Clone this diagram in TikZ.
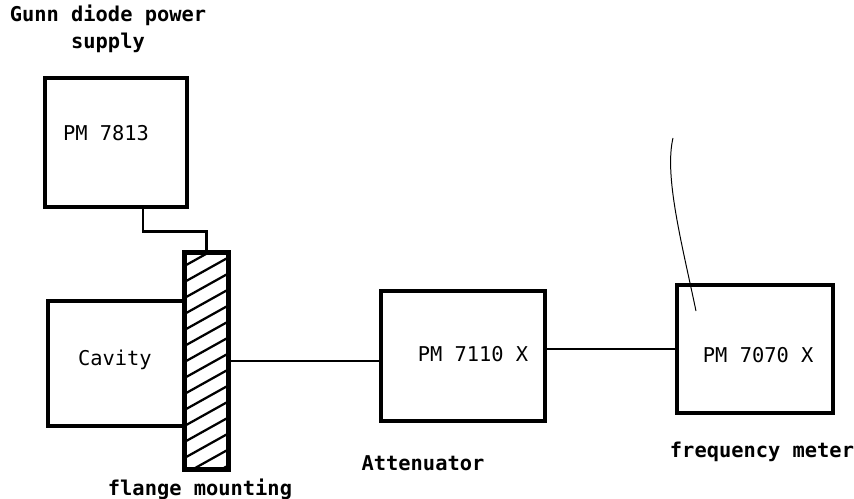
\documentclass[tikz,border=0pt]{standalone}
\usepackage{fontspec}
\usetikzlibrary{positioning,calc}
\newfontfamily\typefont{DejaVu Sans Mono}
\tikzset{
    every node/.append style={align=center},
    unit/.style={rectangle,draw=black,line width=2.2pt,inner sep=0pt},
    unitlbl/.style={font=\typefont\fontsize{14.5}{18}\selectfont,inner sep=0pt},
    flangebox/.style={rectangle,draw=black,line width=2.2pt,minimum width=1.075cm,
        minimum height=5.4cm,inner sep=0pt},
    wire/.style={line width=1.8pt},
    hatch/.style={line width=1.6pt},
    probe/.style={line width=0.7pt},
    caption/.style={font=\typefont\bfseries\fontsize{14.5}{19}\selectfont,inner sep=0pt}
}

\begin{document}
\begin{tikzpicture}
    \useasboundingbox (0,0) rectangle (21.35,-12.475);
    % instruments
    \node[unit,minimum width=3.55cm,minimum height=3.225cm]  (psu)    at ( 2.9,  -3.5625) {};
    \node[flangebox]                                          (flange) at ( 5.1625,-9.025) {};
    \node[unit,minimum width=3.425cm,minimum height=3.125cm] (cavity) at ( 2.9125,-9.0875) {};
    \node[unit,minimum width=4.1cm,minimum height=3.25cm]    (atten)  at (11.575, -8.9)   {};
    \node[unit,minimum width=3.9cm,minimum height=3.2cm]     (fmeter) at (18.875, -8.725) {};
    % texts in the boxes
    \node[unitlbl] (psutext)    at ($(psu)+(-0.25,0.23)$)     {PM 7813};
    \node[unitlbl] (cavitytext) at ($(cavity)+(-0.04,0.1)$)   {Cavity};
    \node[unitlbl] (attentext)  at ($(atten)+(0.25,0.05)$)    {PM 7110 X};
    \node[unitlbl] (fmetertext) at ($(fmeter)+(0.08,-0.15)$)  {PM 7070 X};

    % hatching of the flange
    \begin{scope}
        \clip (flange.south west) rectangle (flange.north east);
        \foreach \k in {0,...,15}
            \draw[hatch] ($(flange.south west)+(0,\k*0.4-0.5)$) -- ++(1.075,0.6);
    \end{scope}
    \draw[line width=2.2pt] (flange.south west) rectangle (flange.north east);

    % captions
    \node[caption] (psulbl)    at ( 2.7,  -0.725) {Gunn diode power\\supply};
    \node[caption] (flangelbl) at ( 5.0, -12.225) {flange mounting};
    \node[caption] (attenlbl)  at (10.575,-11.575) {Attenuator};
    \node[caption] (fmeterlbl) at (19.05, -11.3)  {frequency meter};

    % connections
    \draw[wire] ($(psu.south)+(0.675,0)$) |- ($(flange.north)+(0,0.5)$) -- (flange.north);
    \draw[wire] (flange.east) -- (flange.east -| atten.west);
    \draw[wire] (atten.east |- fmeter.west) -- (fmeter.west);
    \coordinate (probetip) at (16.825,-3.45);
    \draw[probe] (probetip) .. controls (16.6,-4.4) and (17.05,-6.1) .. (17.4,-7.775);
\end{tikzpicture}
\end{document}
